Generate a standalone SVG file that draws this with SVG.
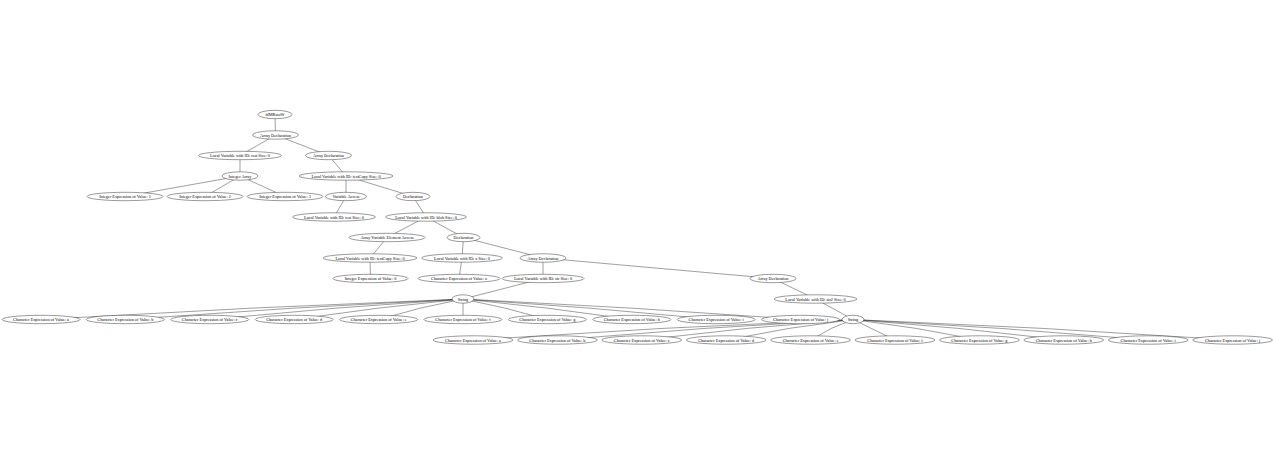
<svg xmlns="http://www.w3.org/2000/svg" width="1273" height="455" viewBox="0 0 1273 455">
<style>
.n ellipse{fill:#fff;stroke:#000;stroke-width:0.4}
.n text{font-family:"Liberation Serif","Times New Roman",serif;font-size:4.25px;fill:#000;text-anchor:middle;dominant-baseline:central}
#edges path,#edges line{fill:none;stroke:#000;stroke-width:0.38}
</style>
<rect width="1273" height="455" fill="#fff"/>
<g id="edges">
<line x1="275" y1="114.5" x2="275.5" y2="135"/>
<line x1="275.5" y1="135" x2="240" y2="155.5"/>
<line x1="275.5" y1="135" x2="328.5" y2="155.5"/>
<line x1="240" y1="155.5" x2="240" y2="176"/>
<line x1="240" y1="176" x2="125" y2="196.5"/>
<line x1="240" y1="176" x2="205" y2="196.5"/>
<line x1="240" y1="176" x2="285" y2="196.5"/>
<line x1="328.5" y1="155.5" x2="346" y2="176"/>
<line x1="346" y1="176" x2="346" y2="196.5"/>
<line x1="346" y1="176" x2="413" y2="196.5"/>
<line x1="346" y1="196.5" x2="334" y2="217"/>
<line x1="413" y1="196.5" x2="426" y2="217"/>
<line x1="426" y1="217" x2="387" y2="237.5"/>
<line x1="426" y1="217" x2="463.5" y2="237.5"/>
<line x1="387" y1="237.5" x2="370" y2="258"/>
<line x1="370" y1="258" x2="370.5" y2="278.5"/>
<line x1="463.5" y1="237.5" x2="462" y2="258"/>
<line x1="463.5" y1="237.5" x2="543" y2="258"/>
<line x1="462" y1="258" x2="459" y2="278.5"/>
<line x1="543" y1="258" x2="543" y2="278.5"/>
<line x1="543" y1="258" x2="773" y2="278.5"/>
<line x1="543" y1="278.5" x2="463" y2="299"/>
<line x1="773" y1="278.5" x2="815.5" y2="299"/>
<line x1="815.5" y1="299" x2="853" y2="319.5"/>
<path d="M463,299 Q252,307 41,319.5"/>
<path d="M463,299 Q294,307 125.4,319.5"/>
<path d="M463,299 Q336,307 209.8,319.5"/>
<path d="M463,299 Q378,307 294.2,319.5"/>
<path d="M463,299 Q420,307 378.6,319.5"/>
<line x1="463" y1="299" x2="463" y2="319.5"/>
<path d="M463,299 Q505,307 547.4,319.5"/>
<path d="M463,299 Q547,307 631.8,319.5"/>
<path d="M463,299 Q589,307 716.2,319.5"/>
<path d="M463,299 Q631,307 800.6,319.5"/>
<path d="M853,319.5 Q663,327 473,340"/>
<path d="M853,319.5 Q705,327 557.4,340"/>
<path d="M853,319.5 Q747,327 641.8,340"/>
<path d="M853,319.5 Q789,327 726.2,340"/>
<path d="M853,319.5 Q831,327 810.6,340"/>
<line x1="853" y1="319.5" x2="895" y2="340"/>
<path d="M853,319.5 Q916,327 979.4,340"/>
<path d="M853,319.5 Q958,327 1063.8,340"/>
<path d="M853,319.5 Q1000,327 1148.2,340"/>
<path d="M853,319.5 Q1042,327 1232.6,340"/>
</g>
<g id="n0" class="n"><ellipse cx="275" cy="114.5" rx="17" ry="4.2"/><text x="275" y="114.5">idMKstoW</text></g>
<g id="n1" class="n"><ellipse cx="275.5" cy="135" rx="23" ry="4.2"/><text x="275.5" y="135">Array Declaration</text></g>
<g id="n2" class="n"><ellipse cx="240" cy="155.5" rx="41.5" ry="4.2"/><text x="240" y="155.5">Local Variable with ID: test Size: 0</text></g>
<g id="n3" class="n"><ellipse cx="328.5" cy="155.5" rx="23" ry="4.2"/><text x="328.5" y="155.5">Array Declaration</text></g>
<g id="n4" class="n"><ellipse cx="240" cy="176" rx="18" ry="4.2"/><text x="240" y="176">Integer Array</text></g>
<g id="n5" class="n"><ellipse cx="346" cy="176" rx="47" ry="4.2"/><text x="346" y="176">Local Variable with ID: testCopy Size: 0</text></g>
<g id="n6" class="n"><ellipse cx="125" cy="196.5" rx="38" ry="4.2"/><text x="125" y="196.5">Integer Expression of Value: 1</text></g>
<g id="n7" class="n"><ellipse cx="205" cy="196.5" rx="38" ry="4.2"/><text x="205" y="196.5">Integer Expression of Value: 2</text></g>
<g id="n8" class="n"><ellipse cx="285" cy="196.5" rx="38" ry="4.2"/><text x="285" y="196.5">Integer Expression of Value: 3</text></g>
<g id="n9" class="n"><ellipse cx="346" cy="196.5" rx="20.5" ry="4.2"/><text x="346" y="196.5">Variable Access</text></g>
<g id="n10" class="n"><ellipse cx="413" cy="196.5" rx="17" ry="4.2"/><text x="413" y="196.5">Declaration</text></g>
<g id="n11" class="n"><ellipse cx="334" cy="217" rx="41.5" ry="4.2"/><text x="334" y="217">Local Variable with ID: test Size: 0</text></g>
<g id="n12" class="n"><ellipse cx="426" cy="217" rx="40.5" ry="4.2"/><text x="426" y="217">Local Variable with ID: blob Size: 0</text></g>
<g id="n13" class="n"><ellipse cx="387" cy="237.5" rx="38" ry="4.2"/><text x="387" y="237.5">Array Variable Element Access</text></g>
<g id="n14" class="n"><ellipse cx="463.5" cy="237.5" rx="16.5" ry="4.2"/><text x="463.5" y="237.5">Declaration</text></g>
<g id="n15" class="n"><ellipse cx="370" cy="258" rx="47" ry="4.2"/><text x="370" y="258">Local Variable with ID: testCopy Size: 0</text></g>
<g id="n16" class="n"><ellipse cx="462" cy="258" rx="40.5" ry="4.2"/><text x="462" y="258">Local Variable with ID: a Size: 0</text></g>
<g id="n17" class="n"><ellipse cx="543" cy="258" rx="23" ry="4.2"/><text x="543" y="258">Array Declaration</text></g>
<g id="n18" class="n"><ellipse cx="370.5" cy="278.5" rx="37.5" ry="4.2"/><text x="370.5" y="278.5">Integer Expression of Value: 0</text></g>
<g id="n19" class="n"><ellipse cx="459" cy="278.5" rx="41" ry="4.2"/><text x="459" y="278.5">Character Expression of Value: a</text></g>
<g id="n20" class="n"><ellipse cx="543" cy="278.5" rx="41" ry="4.2"/><text x="543" y="278.5">Local Variable with ID: str Size: 0</text></g>
<g id="n21" class="n"><ellipse cx="773" cy="278.5" rx="23" ry="4.2"/><text x="773" y="278.5">Array Declaration</text></g>
<g id="n22" class="n"><ellipse cx="463" cy="299" rx="11" ry="4.2"/><text x="463" y="299">String</text></g>
<g id="n23" class="n"><ellipse cx="815.5" cy="299" rx="41.5" ry="4.2"/><text x="815.5" y="299">Local Variable with ID: str2 Size: 0</text></g>
<g id="n24" class="n"><ellipse cx="41" cy="319.5" rx="39" ry="4.2"/><text x="41" y="319.5">Character Expression of Value: a</text></g>
<g id="n25" class="n"><ellipse cx="125.4" cy="319.5" rx="39" ry="4.2"/><text x="125.4" y="319.5">Character Expression of Value: b</text></g>
<g id="n26" class="n"><ellipse cx="209.8" cy="319.5" rx="39" ry="4.2"/><text x="209.8" y="319.5">Character Expression of Value: c</text></g>
<g id="n27" class="n"><ellipse cx="294.2" cy="319.5" rx="39" ry="4.2"/><text x="294.2" y="319.5">Character Expression of Value: d</text></g>
<g id="n28" class="n"><ellipse cx="378.6" cy="319.5" rx="39" ry="4.2"/><text x="378.6" y="319.5">Character Expression of Value: e</text></g>
<g id="n29" class="n"><ellipse cx="463" cy="319.5" rx="39" ry="4.2"/><text x="463" y="319.5">Character Expression of Value: f</text></g>
<g id="n30" class="n"><ellipse cx="547.4" cy="319.5" rx="39" ry="4.2"/><text x="547.4" y="319.5">Character Expression of Value: g</text></g>
<g id="n31" class="n"><ellipse cx="631.8" cy="319.5" rx="39" ry="4.2"/><text x="631.8" y="319.5">Character Expression of Value: h</text></g>
<g id="n32" class="n"><ellipse cx="716.2" cy="319.5" rx="39" ry="4.2"/><text x="716.2" y="319.5">Character Expression of Value: i</text></g>
<g id="n33" class="n"><ellipse cx="800.6" cy="319.5" rx="39" ry="4.2"/><text x="800.6" y="319.5">Character Expression of Value: j</text></g>
<g id="n34" class="n"><ellipse cx="853" cy="319.5" rx="11" ry="4.2"/><text x="853" y="319.5">String</text></g>
<g id="n35" class="n"><ellipse cx="473" cy="340" rx="40" ry="4.2"/><text x="473" y="340">Character Expression of Value: a</text></g>
<g id="n36" class="n"><ellipse cx="557.4" cy="340" rx="40" ry="4.2"/><text x="557.4" y="340">Character Expression of Value: b</text></g>
<g id="n37" class="n"><ellipse cx="641.8" cy="340" rx="40" ry="4.2"/><text x="641.8" y="340">Character Expression of Value: c</text></g>
<g id="n38" class="n"><ellipse cx="726.2" cy="340" rx="40" ry="4.2"/><text x="726.2" y="340">Character Expression of Value: d</text></g>
<g id="n39" class="n"><ellipse cx="810.6" cy="340" rx="40" ry="4.2"/><text x="810.6" y="340">Character Expression of Value: e</text></g>
<g id="n40" class="n"><ellipse cx="895" cy="340" rx="40" ry="4.2"/><text x="895" y="340">Character Expression of Value: f</text></g>
<g id="n41" class="n"><ellipse cx="979.4" cy="340" rx="40" ry="4.2"/><text x="979.4" y="340">Character Expression of Value: g</text></g>
<g id="n42" class="n"><ellipse cx="1063.8" cy="340" rx="40" ry="4.2"/><text x="1063.8" y="340">Character Expression of Value: h</text></g>
<g id="n43" class="n"><ellipse cx="1148.2" cy="340" rx="40" ry="4.2"/><text x="1148.2" y="340">Character Expression of Value: i</text></g>
<g id="n44" class="n"><ellipse cx="1232.6" cy="340" rx="40" ry="4.2"/><text x="1232.6" y="340">Character Expression of Value: j</text></g>
</svg>
